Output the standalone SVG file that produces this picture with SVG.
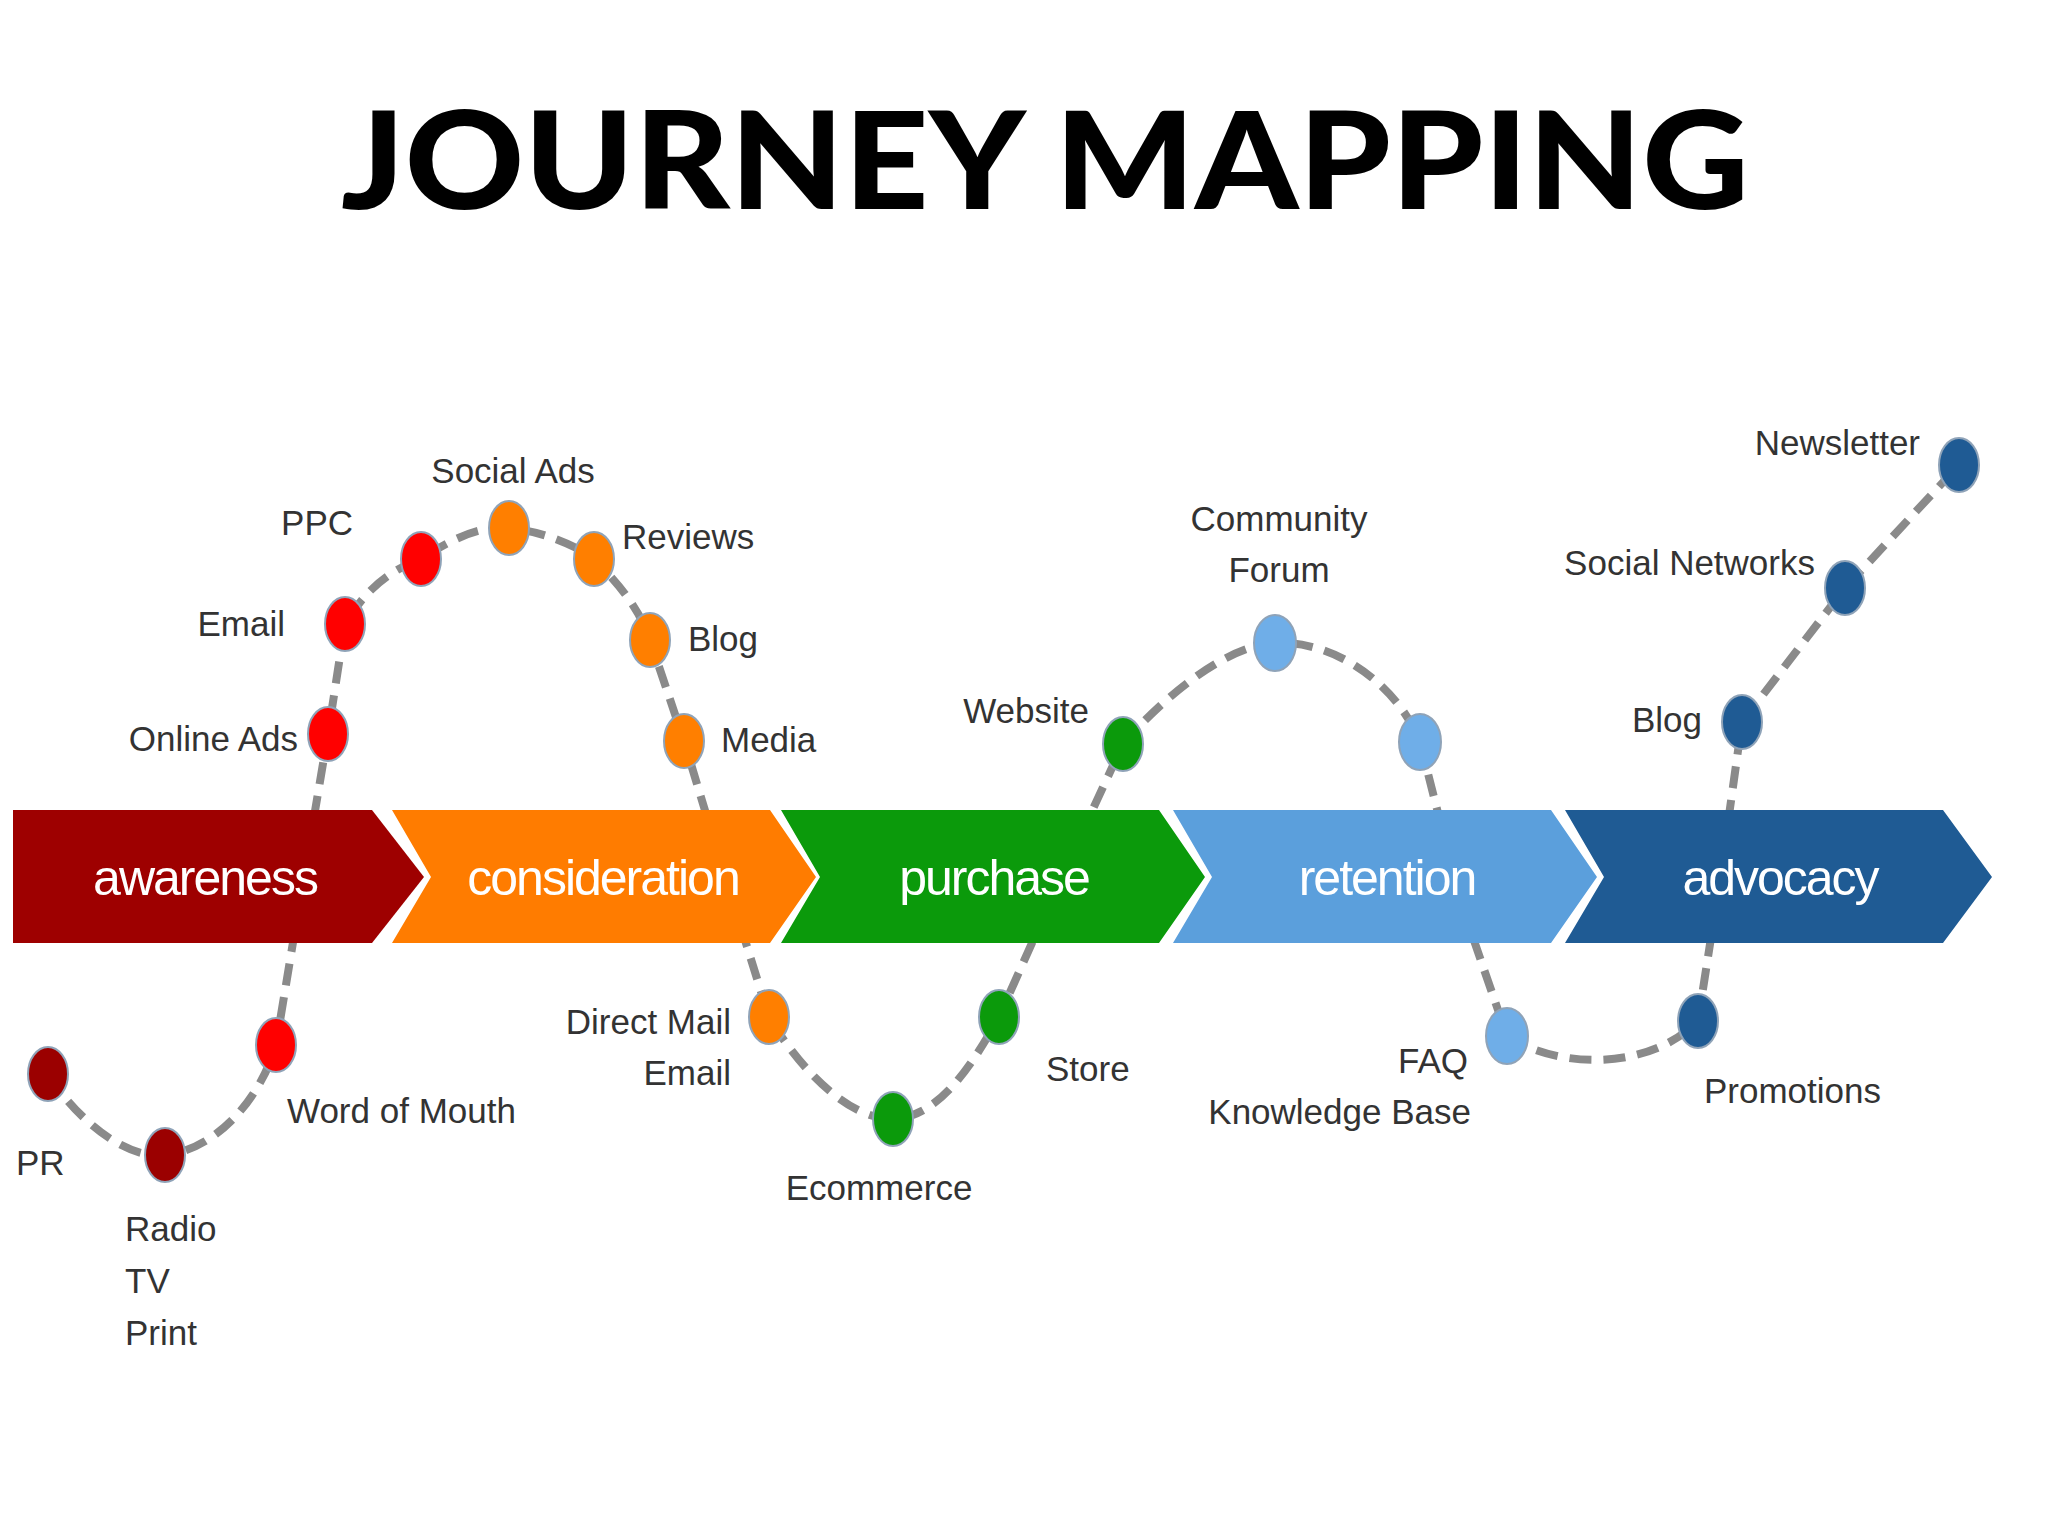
<svg xmlns="http://www.w3.org/2000/svg" width="2048" height="1536" viewBox="0 0 2048 1536">
<style>
.t{font-family:"Liberation Sans",Arial,sans-serif;font-size:35px;fill:#333}
.s{font-family:"Liberation Sans",Arial,sans-serif;font-size:50px;fill:#fff;text-anchor:middle;letter-spacing:-2px}
.e{text-anchor:end}.m{text-anchor:middle}
.d{stroke:#8fa3b8;stroke-width:2}
</style>
<rect width="2048" height="1536" fill="#fff"/>
<text x="1045" y="209" font-family="Lato,'Liberation Sans',sans-serif" font-weight="900" font-size="136" text-anchor="middle" textLength="1408" lengthAdjust="spacingAndGlyphs" fill="#000">JOURNEY MAPPING</text>
<g id="connectors">
<path d="M48,1074 C70,1110 120,1160 165,1155 C215,1150 260,1100 276,1045 L300,900 L328,734 L345,624 C365,590 390,570 421,559 C450,540 480,525 509,528 C545,532 575,545 594,559 C620,585 640,610 650,640 L684,741 L720,860 L769,1017 C800,1070 850,1120 893,1119 C940,1118 975,1060 999,1017 L1060,880 L1123,744 C1170,690 1230,645 1275,643 C1340,640 1400,690 1420,742 L1460,900 L1507,1036 C1560,1070 1650,1070 1698,1021 L1720,880 L1742,722 L1845,588 L1959,465" fill="none" stroke="#8a8a8a" stroke-width="8" stroke-dasharray="22 12"/>
</g>
<g id="awareness"><path d="M13,810 L372,810 L424,877 L372,943 L13,943 Z" fill="#9e0000"/><text class="s" x="205" y="895">awareness</text></g>
<g id="consideration"><path d="M392,810 L770,810 L816,877 L770,943 L392,943 L431,877 Z" fill="#ff7c00"/><text class="s" x="603" y="895">consideration</text></g>
<g id="purchase"><path d="M781,810 L1159,810 L1205,877 L1159,943 L781,943 L820,877 Z" fill="#0b9a0b"/><text class="s" x="994" y="895">purchase</text></g>
<g id="retention"><path d="M1173,810 L1551,810 L1597,877 L1551,943 L1173,943 L1212,877 Z" fill="#5b9fdc"/><text class="s" x="1387" y="895">retention</text></g>
<g id="advocacy"><path d="M1565,810 L1943,810 L1992,877 L1943,943 L1565,943 L1604,877 Z" fill="#1f5b94"/><text class="s" x="1780" y="895">advocacy</text></g>
<g id="pr"><ellipse class="d" cx="48" cy="1074" rx="20" ry="27" fill="#9b0000"/><text class="t" x="16" y="1175">PR</text></g>
<g id="radio"><ellipse class="d" cx="165" cy="1155" rx="20" ry="27" fill="#9b0000"/><text class="t" x="125" y="1241">Radio</text><text class="t" x="125" y="1293">TV</text><text class="t" x="125" y="1345">Print</text></g>
<g id="wom"><ellipse class="d" cx="276" cy="1045" rx="20" ry="27" fill="#f00"/><text class="t" x="287" y="1123">Word of Mouth</text></g>
<g id="onlineads"><ellipse class="d" cx="328" cy="734" rx="20" ry="27" fill="#f00"/><text class="t e" x="298" y="751">Online Ads</text></g>
<g id="email"><ellipse class="d" cx="345" cy="624" rx="20" ry="27" fill="#f00"/><text class="t e" x="285" y="636">Email</text></g>
<g id="ppc"><ellipse class="d" cx="421" cy="559" rx="20" ry="27" fill="#f00"/><text class="t e" x="353" y="535">PPC</text></g>
<g id="socialads"><ellipse class="d" cx="509" cy="528" rx="20" ry="27" fill="#ff7f00"/><text class="t m" x="513" y="483">Social Ads</text></g>
<g id="reviews"><ellipse class="d" cx="594" cy="559" rx="20" ry="27" fill="#ff7f00"/><text class="t" x="622" y="549">Reviews</text></g>
<g id="blog1"><ellipse class="d" cx="650" cy="640" rx="20" ry="27" fill="#ff7f00"/><text class="t" x="688" y="651">Blog</text></g>
<g id="media"><ellipse class="d" cx="684" cy="741" rx="20" ry="27" fill="#ff7f00"/><text class="t" x="721" y="752">Media</text></g>
<g id="directmail"><ellipse class="d" cx="769" cy="1017" rx="20" ry="27" fill="#ff7f00"/><text class="t e" x="731" y="1034">Direct Mail</text><text class="t e" x="731" y="1085">Email</text></g>
<g id="ecommerce"><ellipse class="d" cx="893" cy="1119" rx="20" ry="27" fill="#0b9a0b"/><text class="t m" x="879" y="1200">Ecommerce</text></g>
<g id="store"><ellipse class="d" cx="999" cy="1017" rx="20" ry="27" fill="#0b9a0b"/><text class="t" x="1046" y="1081">Store</text></g>
<g id="website"><ellipse class="d" cx="1123" cy="744" rx="20" ry="27" fill="#0b9a0b"/><text class="t e" x="1089" y="723">Website</text></g>
<g id="community"><ellipse class="d" cx="1275" cy="643" rx="21" ry="28" fill="#6faee8"/><text class="t m" x="1279" y="531">Community</text><text class="t m" x="1279" y="582">Forum</text></g>
<g id="retdot"><ellipse class="d" cx="1420" cy="742" rx="21" ry="28" fill="#6faee8"/></g>
<g id="faq"><ellipse class="d" cx="1507" cy="1036" rx="21" ry="28" fill="#6faee8"/><text class="t e" x="1468" y="1073">FAQ</text><text class="t e" x="1471" y="1124">Knowledge Base</text></g>
<g id="promotions"><ellipse class="d" cx="1698" cy="1021" rx="20" ry="27" fill="#1f5b94"/><text class="t" x="1704" y="1103">Promotions</text></g>
<g id="blog2"><ellipse class="d" cx="1742" cy="722" rx="20" ry="27" fill="#1f5b94"/><text class="t e" x="1702" y="732">Blog</text></g>
<g id="socialnetworks"><ellipse class="d" cx="1845" cy="588" rx="20" ry="27" fill="#1f5b94"/><text class="t e" x="1815" y="575">Social Networks</text></g>
<g id="newsletter"><ellipse class="d" cx="1959" cy="465" rx="20" ry="27" fill="#1f5b94"/><text class="t e" x="1920" y="455">Newsletter</text></g>
</svg>
